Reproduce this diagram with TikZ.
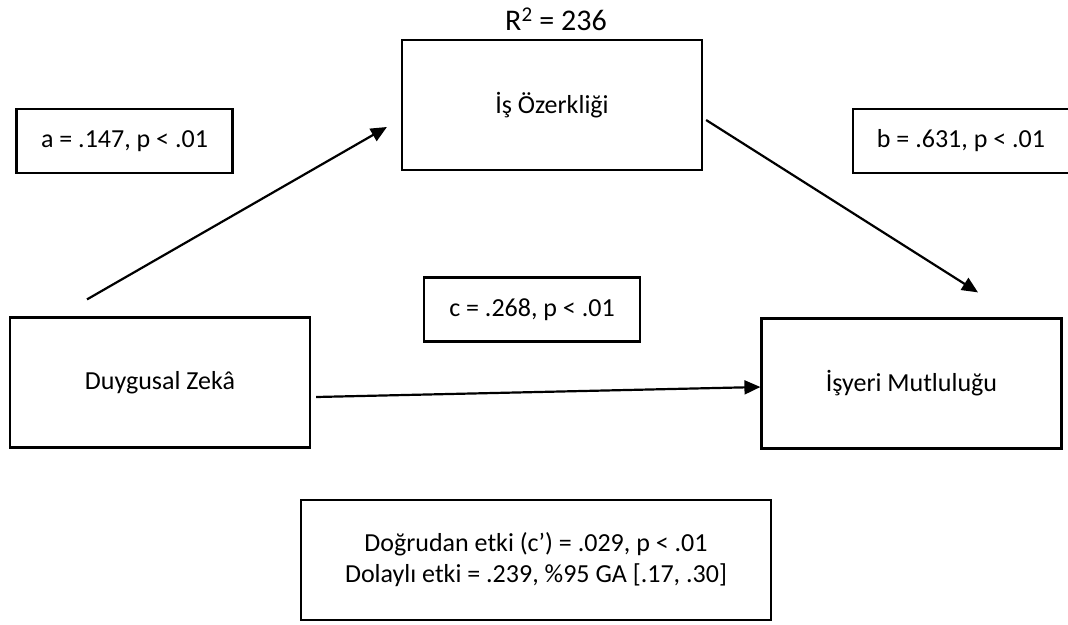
\documentclass[tikz,border=0pt]{standalone}
\usepackage{fontspec}
\setmainfont{Carlito}
\usetikzlibrary{arrows.meta}

\begin{document}
\begin{tikzpicture}[
    x=1pt, y=-1pt,
    varbox/.style={draw, line width=2.2pt, minimum width=300pt, minimum height=130pt, font=\fontsize{26}{31}\selectfont},
    coef/.style={draw, line width=2.2pt, minimum width=216pt, minimum height=64pt, font=\fontsize{26}{31}\selectfont},
    effect/.style={draw, line width=2.2pt, minimum width=470pt, minimum height=120pt, align=center, font=\fontsize{26}{31}\selectfont},
    arrow/.style={-{Triangle[length=16pt, width=14pt]}, line width=2.2pt}
]
\useasboundingbox (0,0) rectangle (1068,624);

% Variables
\node[varbox] (med) at (552,105) {İş Özerkliği};
\node[varbox] (dz) at (160,382.5) {Duygusal Zekâ};
\node[varbox] (im) at (911.5,383.5) {İşyeri Mutluluğu};

% R squared
\node[font=\fontsize{30}{34}\selectfont] (rsq) at (556,19) {R\textsuperscript{2} = 236};

% Path coefficients
\node[coef] (pa) at (124.5,141) {a = .147, p < .01};
\node[coef] (pb) at (961,141) {b = .631, p < .01};
\node[coef] (pc) at (532,309.5) {c = .268, p < .01};

% Paths
\draw[arrow] ([xshift=-73pt, yshift=17pt]dz.north) -- ([xshift=-14pt, yshift=-22pt]med.west);
\draw[arrow] ([xshift=3pt, yshift=-15pt]med.east) -- ([xshift=66.5pt, yshift=25pt]im.north);
\draw[arrow] ([xshift=5pt, yshift=-14.5pt]dz.east) -- ([yshift=-3.5pt]im.west);

% Effects
\node[effect] (eff) at (536,560) {Doğrudan etki (c’) = .029, p < .01\\Dolaylı etki = .239, \%95 GA [.17, .30]};

\end{tikzpicture}
\end{document}
